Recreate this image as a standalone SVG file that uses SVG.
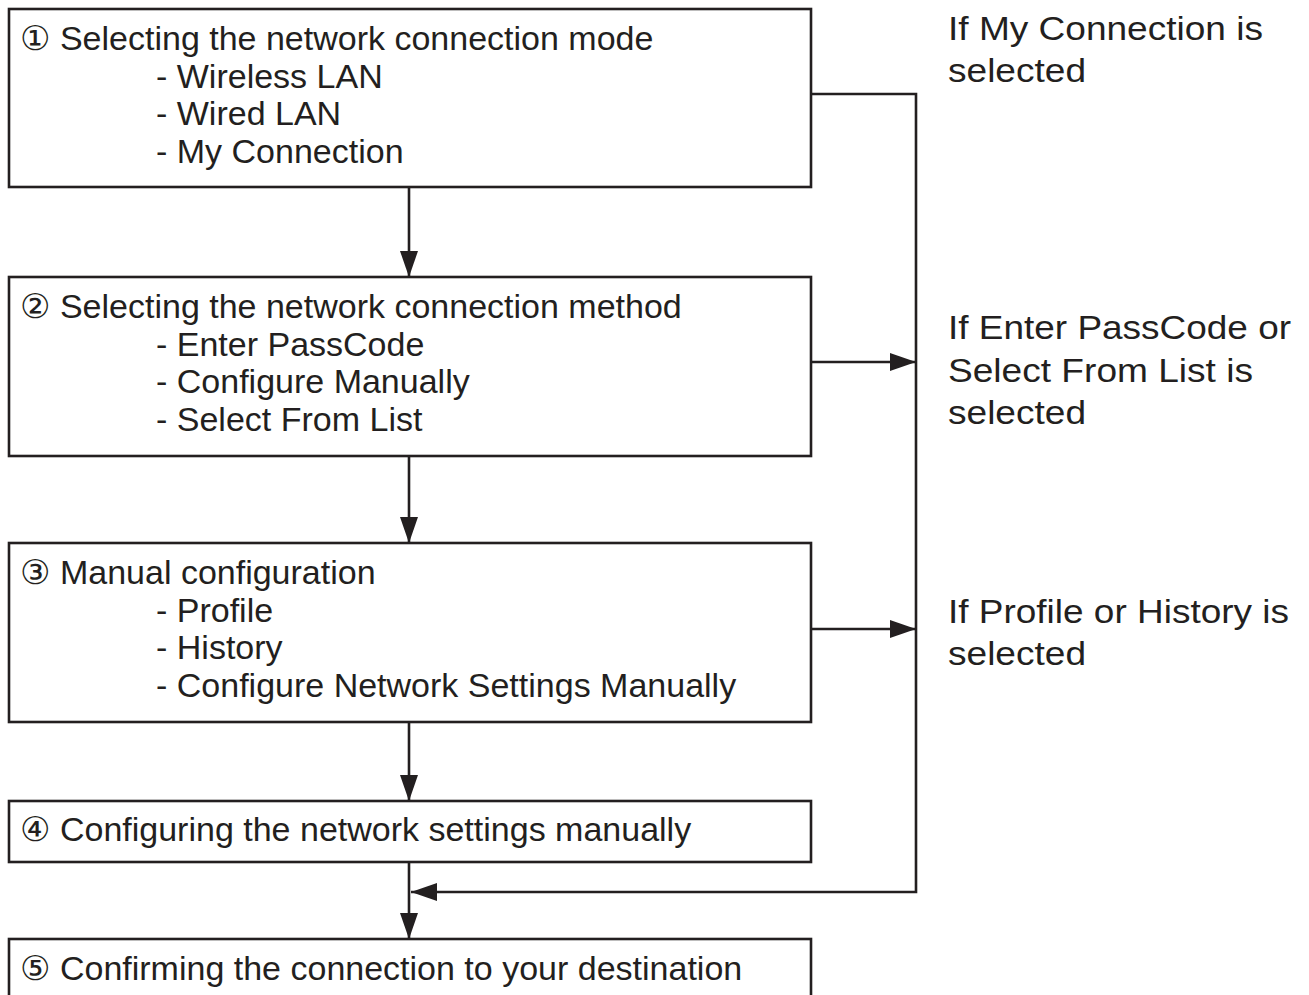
<svg xmlns="http://www.w3.org/2000/svg" width="1309" height="995" viewBox="0 0 1309 995">
<style>
.box{fill:#fff;stroke:#231f20;stroke-width:2.6}
.t{font-family:"Liberation Sans","DejaVu Sans",Arial,sans-serif;font-size:34px;fill:#231f20}
.r{font-family:"Liberation Sans",Arial,sans-serif;font-size:34px;fill:#231f20}
.c{fill:none;stroke:#231f20;stroke-width:2.6}
</style>
<defs>
<marker id="ah" viewBox="0 0 26 18" refX="26" refY="9" markerWidth="26" markerHeight="18" markerUnits="userSpaceOnUse" orient="auto">
<path d="M0,0 L26,9 L0,18 z" fill="#231f20"/>
</marker>
</defs>
<rect width="1309" height="995" fill="#fff"/>
<g id="connectors">
<line class="c" x1="409" y1="187" x2="409" y2="277" marker-end="url(#ah)"/>
<line class="c" x1="409" y1="456" x2="409" y2="543" marker-end="url(#ah)"/>
<line class="c" x1="409" y1="722" x2="409" y2="801" marker-end="url(#ah)"/>
<line class="c" x1="409" y1="862" x2="409" y2="939" marker-end="url(#ah)"/>
<polyline class="c" points="811,94 916,94 916,892 411,892" marker-end="url(#ah)"/>
<line class="c" x1="811" y1="362" x2="916" y2="362" marker-end="url(#ah)"/>
<line class="c" x1="811" y1="629" x2="916" y2="629" marker-end="url(#ah)"/>
</g>
<g id="node1">
<rect class="box" x="9" y="9" width="802" height="178"/>
<text class="t" x="20" y="50">① Selecting the network connection mode</text>
<text class="t" x="156" y="87.5">- Wireless LAN</text>
<text class="t" x="156" y="125">- Wired LAN</text>
<text class="t" x="156" y="162.5">- My Connection</text>
</g>
<g id="node2">
<rect class="box" x="9" y="277" width="802" height="179"/>
<text class="t" x="20" y="318">② Selecting the network connection method</text>
<text class="t" x="156" y="355.5">- Enter PassCode</text>
<text class="t" x="156" y="393">- Configure Manually</text>
<text class="t" x="156" y="430.5">- Select From List</text>
</g>
<g id="node3">
<rect class="box" x="9" y="543" width="802" height="179"/>
<text class="t" x="20" y="584">③ Manual configuration</text>
<text class="t" x="156" y="621.5">- Profile</text>
<text class="t" x="156" y="659">- History</text>
<text class="t" x="156" y="696.5">- Configure Network Settings Manually</text>
</g>
<g id="node4">
<rect class="box" x="9" y="801" width="802" height="61"/>
<text class="t" x="20" y="841">④ Configuring the network settings manually</text>
</g>
<g id="node5">
<rect class="box" x="9" y="939" width="802" height="70"/>
<text class="t" x="20" y="980">⑤ Confirming the connection to your destination</text>
</g>
<g id="labels">
<text class="r" x="948" y="40" textLength="315" lengthAdjust="spacingAndGlyphs">If My Connection is</text>
<text class="r" x="948" y="82" textLength="138" lengthAdjust="spacingAndGlyphs">selected</text>
<text class="r" x="948" y="339" textLength="343" lengthAdjust="spacingAndGlyphs">If Enter PassCode or</text>
<text class="r" x="948" y="382" textLength="305" lengthAdjust="spacingAndGlyphs">Select From List is</text>
<text class="r" x="948" y="424" textLength="138" lengthAdjust="spacingAndGlyphs">selected</text>
<text class="r" x="948" y="623" textLength="341" lengthAdjust="spacingAndGlyphs">If Profile or History is</text>
<text class="r" x="948" y="665" textLength="138" lengthAdjust="spacingAndGlyphs">selected</text>
</g>
</svg>
